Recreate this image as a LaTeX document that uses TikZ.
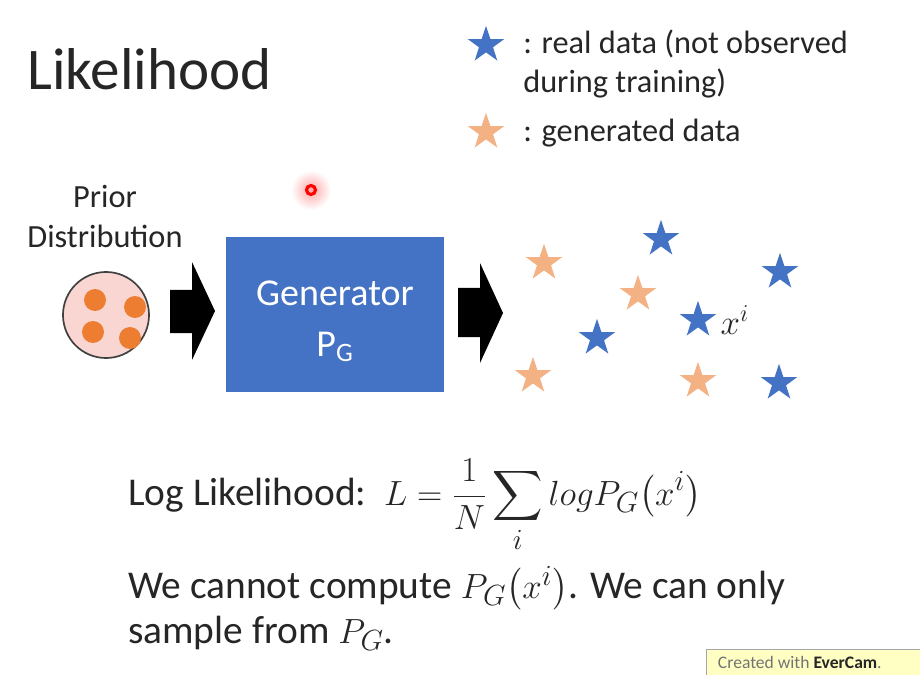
\documentclass[tikz,border=0pt]{standalone}
\usepackage{amsmath}
\usepackage{fontspec}
\setmainfont{Carlito}
\usepackage{xcolor}
\usetikzlibrary{shapes.geometric, positioning}

\definecolor{genblue}{HTML}{4472C4}
\definecolor{realstar}{HTML}{4472C4}
\definecolor{fakestar}{HTML}{F4B183}
\definecolor{dotorange}{HTML}{ED7D31}
\definecolor{priorpink}{HTML}{F9D6D2}
\definecolor{camyellow}{HTML}{FFFFC4}
\definecolor{inkgray}{HTML}{262626}

\begin{document}
\begin{tikzpicture}[x=0.025cm, y=-0.025cm,
  title/.style={font=\fontsize{42}{50}\selectfont, text=inkgray, anchor=base west, inner sep=0pt},
  legend/.style={font=\fontsize{23}{28}\selectfont, text=inkgray, anchor=base west, inner sep=0pt},
  body/.style={font=\fontsize{28}{34}\selectfont, text=inkgray, anchor=base west, inner sep=0pt},
  realdata/.style={star, star points=5, star point ratio=2.6, fill=realstar, minimum size=0.96cm, inner sep=0pt},
  fakedata/.style={star, star points=5, star point ratio=2.6, fill=fakestar, minimum size=0.96cm, inner sep=0pt},
  blockarrow/.style={fill=black}
]
  \useasboundingbox (0,0) rectangle (920,675);
  \fill[white] (0,0) rectangle (920,675);

  % ======= title and legend =======
  \node[title] (title) at (27,90) {Likelihood};

  \node[realdata] (legreal) at (486,45) {};
  \node[legend] (legrealtxt) at (523,54) {: real data (not observed};
  \node[legend] (legrealtxt2) at (523,93) {during training)};
  \node[fakedata] (legfake) at (486,132) {};
  \node[legend] (legfaketxt) at (523,142) {: generated data};

  % laser pointer
  \shade[inner color=red!35, outer color=white] (311,190) circle (20);
  \draw[red, line width=2.2pt] (311,190) circle (4.5);

  % ======= prior -> generator -> samples =======
  \node[legend, anchor=base] (priortxt) at (105,208) {Prior};
  \node[legend, anchor=base] (disttxt) at (105,248) {Distribution};

  \node[circle, draw=black!75, line width=1.2pt, fill=priorpink, minimum size=2.15cm] (prior) at (106,315) {};
  \foreach \px/\py in {95/300, 135/307, 93/332, 130/338}
    \fill[dotorange] (\px,\py) circle (11);

  % block arrows
  \fill[blockarrow] (170,290) -- (192,290) -- (192,262) -- (215,311)
    -- (192,360) -- (192,333) -- (170,333) -- cycle;
  \fill[blockarrow] (458,288) -- (480,288) -- (480,263) -- (503,313)
    -- (480,363) -- (480,337) -- (458,337) -- cycle;

  \node[fill=genblue, minimum width=5.45cm, minimum height=3.875cm, inner sep=0pt,
        anchor=north west] (gen) at (226,237) {};
  \node[font=\fontsize{27}{32}\selectfont, text=white, anchor=base] (gentxt) at (335,305) {Generator};
  \node[font=\fontsize{27}{32}\selectfont, text=white, anchor=base] (pgtxt) at (335,356) {P\textsubscript{G}};

  % samples: generated (orange) and real (blue)
  \node[fakedata] (f1) at (544,263) {};
  \node[fakedata] (f2) at (638,294) {};
  \node[fakedata] (f3) at (533,376) {};
  \node[fakedata] (f4) at (698,381) {};
  \node[realdata] (r1) at (661,239) {};
  \node[realdata] (r2) at (780,272) {};
  \node[realdata] (r3) at (597,338) {};
  \node[realdata] (r4) at (698,320) {};
  \node[realdata] (r5) at (779,383) {};
  \node[font=\fontsize{23}{26}\selectfont, text=inkgray, right=5pt of r4] (xi) {$x^i$};

  % ======= likelihood =======
  \node[body] (loglik) at (128,505) {Log Likelihood:\ \ $L=\dfrac{1}{N}\displaystyle\sum_{i} logP_G\bigl(x^i\bigr)$};
  \node[body] (nocomp) at (128,598) {We cannot compute $P_G\bigl(x^i\bigr)$. We can only};
  \node[body] (sample) at (128,643) {sample from $P_G$.};

  % watermark
  \draw[black!35, fill=camyellow] (706,649) rectangle (922,677);
  \node[font=\fontsize{12.5}{14}\selectfont, anchor=west, text=black!55] (cam) at (713,662)
    {Created with \textcolor{black!85}{\textbf{EverCam}}.};

\end{tikzpicture}
\end{document}
